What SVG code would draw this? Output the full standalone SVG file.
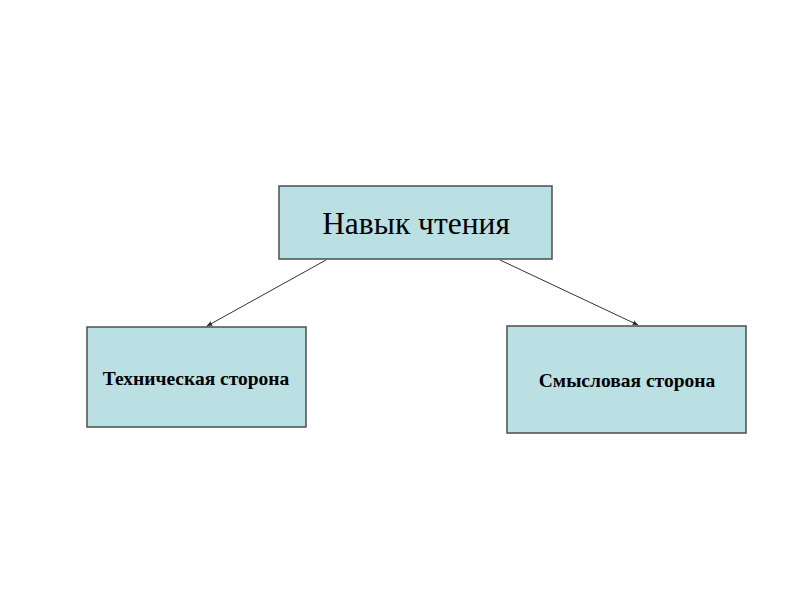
<svg xmlns="http://www.w3.org/2000/svg" width="800" height="600" viewBox="0 0 800 600">
<style>
.box{fill:#bbe0e3;stroke:#4d4d4d;stroke-width:1.5}
.t{font-family:"Liberation Serif","Times New Roman",serif;fill:#000;text-anchor:middle}
.b{font-weight:bold;font-size:19.5px}
.conn{stroke:#333;stroke-width:1;fill:none;marker-end:url(#ah)}
</style>
<defs>
<marker id="ah" viewBox="0 0 10 10" refX="9" refY="5" markerWidth="6" markerHeight="6" orient="auto" markerUnits="userSpaceOnUse">
<path d="M0,1 L10,5 L0,9 z" fill="#333"/>
</marker>
</defs>
<rect width="800" height="600" fill="#fff"/>
<g id="connectors">
<line class="conn" x1="326" y1="260" x2="207" y2="326"/>
<line class="conn" x1="500" y1="260" x2="638" y2="325"/>
</g>
<g id="node-top">
<rect class="box" x="279" y="186" width="273" height="73"/>
<text class="t" x="416" y="234" font-size="31.5">Навык чтения</text>
</g>
<g id="node-left">
<rect class="box" x="87" y="327" width="219" height="100"/>
<text class="t b" x="196" y="385">Техническая сторона</text>
</g>
<g id="node-right">
<rect class="box" x="507" y="326" width="239" height="107"/>
<text class="t b" x="627" y="387">Смысловая сторона</text>
</g>
</svg>
